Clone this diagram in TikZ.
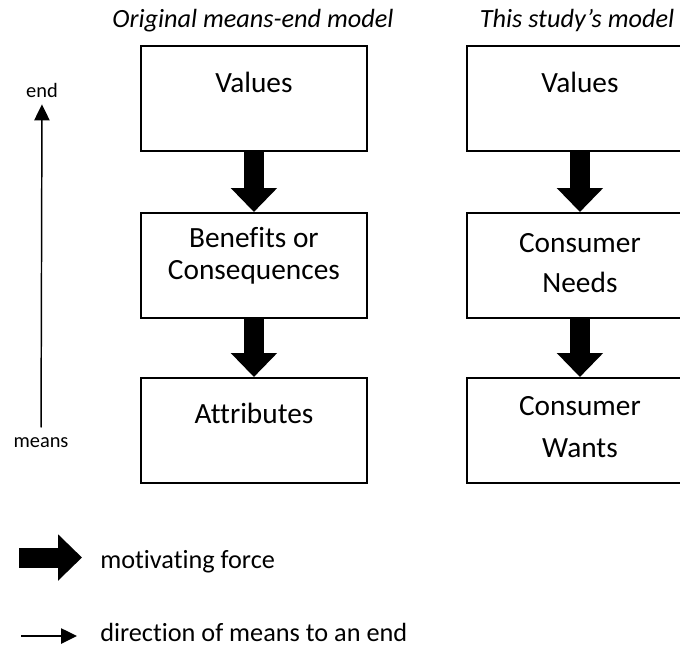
\documentclass[tikz,border=0pt]{standalone}
\usepackage{fontspec}
\setmainfont{Carlito}[Ligatures=NoCommon]
\usepackage{tikz}
\usetikzlibrary{
    calc,
    arrows.meta
}
\tikzset{
    box/.style={draw, line width=1.4pt, minimum width=169.5pt, minimum height=78.75pt,
        inner sep=0pt, anchor=north west},
    boxtext/.style={anchor=base, inner sep=0pt, font=\fontsize{22}{26}\selectfont},
    coltitle/.style={anchor=base, inner sep=0pt, font=\fontsize{19.7}{23}\selectfont\itshape},
    legendtext/.style={anchor=base west, inner sep=0pt, font=\fontsize{19.7}{23}\selectfont},
    axistext/.style={anchor=base, inner sep=0pt, font=\fontsize{15.3}{18}\selectfont},
    force/.style={line width=15pt, -{Triangle[width=33.75pt,length=18pt]}},
    meansto/.style={line width=1.1pt, -{Triangle[width=11.5pt,length=12pt]}}
}

\begin{document}
\begin{tikzpicture}[x=0.75pt,y=-0.75pt]
    \useasboundingbox (0,0) rectangle (680,646);
    \clip (0,0) rectangle (680,646);

    \node[coltitle] (ttlorig) at (253,27) {Original means-end model};
    \node[coltitle] (ttlstudy) at (577,27) {This study’s model};

    % original means-end chain
    \node[box] (val1) at (140,45) {};
    \node[box] (ben) at (140,212) {};
    \node[box] (att) at (140,377) {};
    \node[boxtext] at ($(val1.north)+(0,47)$) {Values};
    \node[boxtext] at ($(ben.north)+(0,35)$) {Benefits or};
    \node[boxtext] at ($(ben.north)+(0,67)$) {Consequences};
    \node[boxtext] at ($(att.north)+(0,46)$) {Attributes};
    \draw[force] (val1.south) -- (ben.north);
    \draw[force] (ben.south) -- (att.north);

    % this study
    \node[box] (val2) at (466,45) {};
    \node[box] (need) at (466,212) {};
    \node[box] (want) at (466,377) {};
    \node[boxtext] at ($(val2.north)+(0,47)$) {Values};
    \node[boxtext] at ($(need.north)+(0,40)$) {Consumer};
    \node[boxtext] at ($(need.north)+(0,80)$) {Needs};
    \node[boxtext] at ($(want.north)+(0,38)$) {Consumer};
    \node[boxtext] at ($(want.north)+(0,80)$) {Wants};
    \draw[force] (val2.south) -- (need.north);
    \draw[force] (need.south) -- (want.north);

    \node[axistext] (endlbl) at (42,97) {end};
    \node[axistext] (meanslbl) at (41,447) {means};
    \draw[meansto, shorten <=7pt, shorten >=5.25pt] (meanslbl.north) -- (endlbl.south);

    % legend
    \coordinate (mfa) at (19,557.5);
    \coordinate (mfb) at (82,557.5);
    \draw[force] (mfa) -- (mfb);
    \node[legendtext] (mftxt) at (100,568) {motivating force};
    \coordinate (dira) at (21,636);
    \coordinate (dirb) at (77,636);
    \draw[meansto] (dira) -- (dirb);
    \node[legendtext] (dirtxt) at (100,641) {direction of means to an end};
\end{tikzpicture}
\end{document}
